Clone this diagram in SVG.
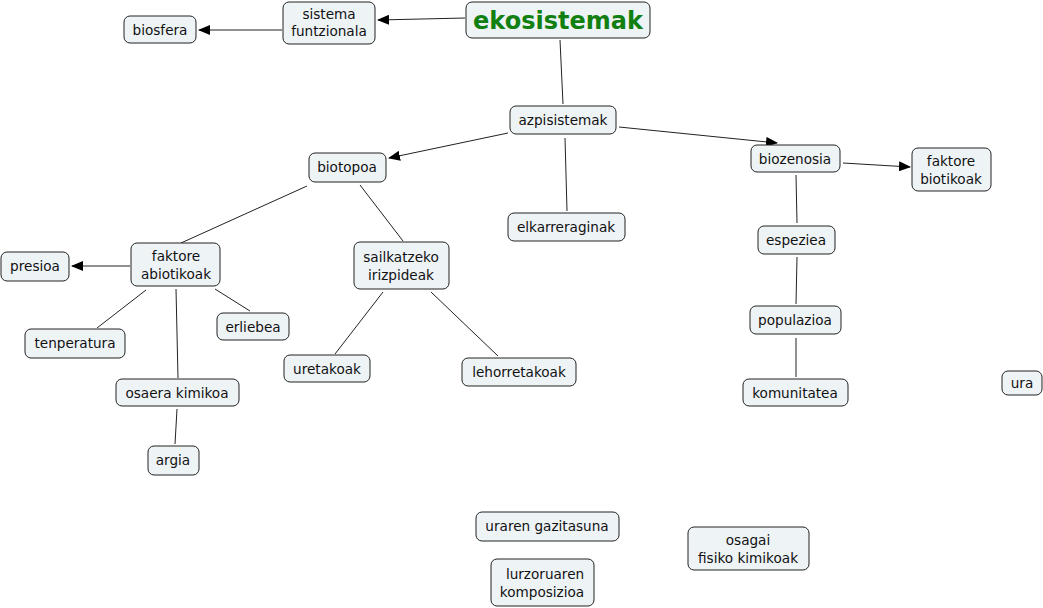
<svg xmlns="http://www.w3.org/2000/svg" width="1043" height="608" viewBox="0 0 1043 608">
<style>
.n rect{fill:#eef3f6;stroke:#222;stroke-width:1}
.n text{font-family:"DejaVu Sans",Verdana,sans-serif;font-size:13.6px;fill:#111;text-anchor:middle}
.c line{stroke:#222;stroke-width:1}
.t text{font-family:"DejaVu Sans",Verdana,sans-serif;font-size:24px;font-weight:bold;fill:#118011;text-anchor:middle}
</style>
<defs>
<marker id="a" markerWidth="12" markerHeight="10" refX="11" refY="5" orient="auto" markerUnits="userSpaceOnUse">
<path d="M0,0 L12,5 L0,10 z" fill="#000"/>
</marker>
</defs>
<rect width="1043" height="608" fill="#fff"/>
<g class="c">
<line x1="465" y1="18" x2="378" y2="20" marker-end="url(#a)"/>
<line x1="282" y1="30" x2="199" y2="30" marker-end="url(#a)"/>
<line x1="560" y1="40" x2="563" y2="104"/>
<line x1="508" y1="133" x2="389" y2="158" marker-end="url(#a)"/>
<line x1="619" y1="127" x2="777" y2="143" marker-end="url(#a)"/>
<line x1="565" y1="138" x2="567" y2="211"/>
<line x1="307" y1="186" x2="181" y2="243"/>
<line x1="360" y1="185" x2="403" y2="241"/>
<line x1="843" y1="163" x2="910" y2="167" marker-end="url(#a)"/>
<line x1="796" y1="175" x2="797" y2="223"/>
<line x1="797" y1="257" x2="796" y2="304"/>
<line x1="796" y1="338" x2="796" y2="377"/>
<line x1="130" y1="266" x2="72" y2="266" marker-end="url(#a)"/>
<line x1="146" y1="290" x2="97" y2="328"/>
<line x1="176" y1="289" x2="178" y2="378"/>
<line x1="215" y1="289" x2="250" y2="311"/>
<line x1="177" y1="409" x2="175" y2="444"/>
<line x1="383" y1="292" x2="335" y2="354"/>
<line x1="431" y1="292" x2="498" y2="356"/>
</g>
<g id="ekosistemak" class="n t"><rect x="466" y="2" width="184" height="36" rx="6"/><text x="558" y="29">ekosistemak</text></g>
<g id="sistema" class="n"><rect x="283" y="2" width="92" height="42" rx="6"/><text x="329" y="19">sistema</text><text x="329" y="36">funtzionala</text></g>
<g id="biosfera" class="n"><rect x="124" y="16" width="72" height="27" rx="6"/><text x="160" y="35">biosfera</text></g>
<g id="azpisistemak" class="n"><rect x="510" y="106" width="106" height="28" rx="6"/><text x="563" y="125">azpisistemak</text></g>
<g id="biotopoa" class="n"><rect x="309" y="153" width="77" height="29" rx="6"/><text x="347" y="172">biotopoa</text></g>
<g id="biozenosia" class="n"><rect x="751" y="145" width="89" height="27" rx="6"/><text x="795" y="164">biozenosia</text></g>
<g id="faktore-biotikoak" class="n"><rect x="912" y="148" width="79" height="43" rx="6"/><text x="951" y="166">faktore</text><text x="951" y="184">biotikoak</text></g>
<g id="elkarreraginak" class="n"><rect x="508" y="213" width="117" height="28" rx="6"/><text x="566" y="232">elkarreraginak</text></g>
<g id="faktore-abiotikoak" class="n"><rect x="131" y="243" width="89" height="43" rx="6"/><text x="176" y="261">faktore</text><text x="176" y="279">abiotikoak</text></g>
<g id="presioa" class="n"><rect x="1" y="252" width="68" height="29" rx="6"/><text x="35" y="271">presioa</text></g>
<g id="sailkatzeko" class="n"><rect x="354" y="242" width="95" height="47" rx="6"/><text x="401" y="262">sailkatzeko</text><text x="401" y="280">irizpideak</text></g>
<g id="espeziea" class="n"><rect x="758" y="226" width="77" height="28" rx="6"/><text x="796" y="245">espeziea</text></g>
<g id="tenperatura" class="n"><rect x="25" y="329" width="100" height="29" rx="6"/><text x="75" y="348">tenperatura</text></g>
<g id="erliebea" class="n"><rect x="217" y="313" width="72" height="27" rx="6"/><text x="253" y="332">erliebea</text></g>
<g id="populazioa" class="n"><rect x="750" y="306" width="91" height="28" rx="6"/><text x="795" y="325">populazioa</text></g>
<g id="uretakoak" class="n"><rect x="284" y="355" width="86" height="27" rx="6"/><text x="327" y="374">uretakoak</text></g>
<g id="lehorretakoak" class="n"><rect x="462" y="358" width="114" height="28" rx="6"/><text x="519" y="377">lehorretakoak</text></g>
<g id="komunitatea" class="n"><rect x="743" y="379" width="105" height="27" rx="6"/><text x="795" y="398">komunitatea</text></g>
<g id="ura" class="n"><rect x="1002" y="371" width="40" height="24" rx="6"/><text x="1022" y="388">ura</text></g>
<g id="osaera-kimikoa" class="n"><rect x="116" y="379" width="123" height="27" rx="6"/><text x="177" y="398">osaera kimikoa</text></g>
<g id="argia" class="n"><rect x="148" y="446" width="51" height="29" rx="6"/><text x="173" y="465">argia</text></g>
<g id="uraren-gazitasuna" class="n"><rect x="476" y="512" width="143" height="29" rx="6"/><text x="547" y="531">uraren gazitasuna</text></g>
<g id="osagai" class="n"><rect x="688" y="527" width="121" height="43" rx="6"/><text x="748" y="545">osagai</text><text x="748" y="563">fisiko kimikoak</text></g>
<g id="lurzoruaren" class="n"><rect x="491" y="559" width="103" height="47" rx="6"/><text x="545" y="579">lurzoruaren</text><text x="542" y="597">komposizioa</text></g>
</svg>
